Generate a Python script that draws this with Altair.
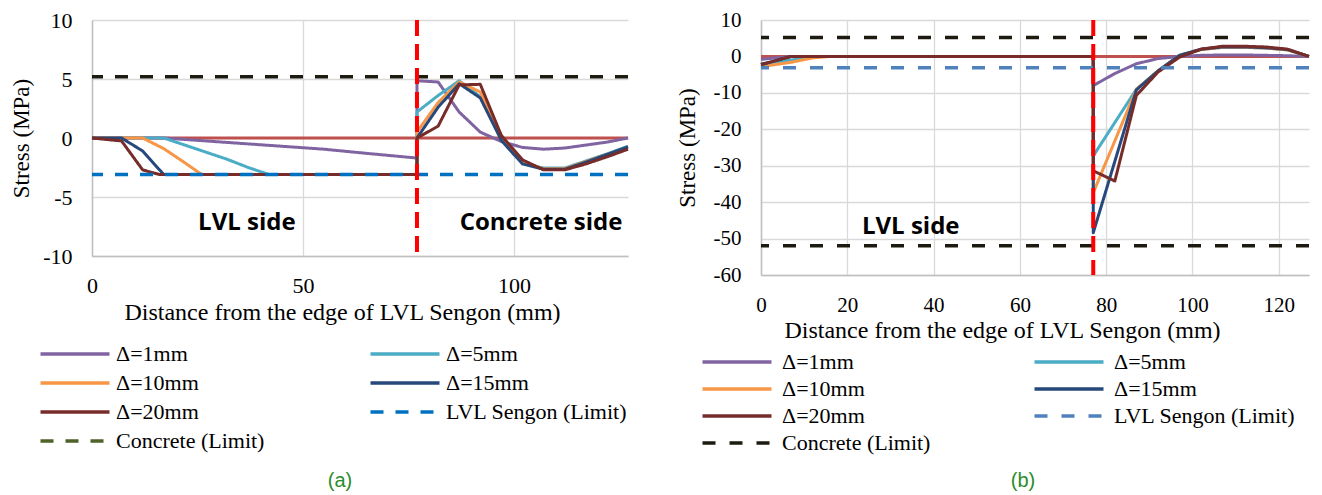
import altair as alt
import pandas as pd

# ---------------- names ----------------
NAMES = ["Δ=1mm", "Δ=5mm", "Δ=10mm", "Δ=15mm", "Δ=20mm"]
LVL_NAME = "LVL Sengon (Limit)"
CON_NAME = "Concrete (Limit)"
LEGEND_ORDER = NAMES + [LVL_NAME, CON_NAME]

# ---------------- panel (a) data ----------------
a_x_d1 = [0, 17, 25, 35, 45, 55, 65, 77, 77, 82, 87, 92, 97, 102, 107, 112, 117, 122, 127]
a_y_d1 = [0, 0, -0.2, -0.45, -0.7, -0.95, -1.3, -1.7, 4.85, 4.75, 2.2, 0.5, -0.3, -0.8, -0.95, -0.85, -0.6, -0.35, 0]
a_x_d5 = [0, 17, 22, 27, 32, 37, 42, 77, 77, 82, 87, 92, 97, 102, 107, 112, 117, 122, 127]
a_y_d5 = [0, 0, -0.6, -1.2, -1.8, -2.5, -3.1, -3.1, 2.2, 3.6, 4.85, 3.5, 0.2, -2.1, -2.55, -2.55, -1.95, -1.35, -0.7]
a_x_d10 = [0, 12, 17, 22, 26, 77, 77, 82, 87, 92, 97, 102, 107, 112, 117, 122, 127]
a_y_d10 = [0, 0, -0.9, -2.1, -3.1, -3.1, 0.5, 3.0, 4.75, 3.9, 0.2, -2.1, -2.6, -2.6, -2.0, -1.4, -0.8]
a_x_d15 = [0, 7, 12, 17, 77, 77, 82, 87, 92, 97, 102, 107, 112, 117, 122, 127]
a_y_d15 = [0, 0, -1.1, -3.1, -3.1, 0, 2.6, 4.6, 3.4, -0.2, -2.2, -2.65, -2.65, -2.05, -1.4, -0.75]
a_x_d20 = [0, 7, 12, 16, 77, 77, 82, 87, 92, 97, 102, 107, 112, 117, 122, 127]
a_y_d20 = [0, -0.25, -2.7, -3.1, -3.1, 0, 1.0, 4.5, 4.55, 0.2, -1.85, -2.7, -2.7, -2.2, -1.6, -0.95]

a_lvl_limit = [-3.1]
a_con_limit = [5.2]
a_x_ticks = [0, 50, 100]
a_y_ticks = [-10, -5, 0, 5, 10]
a_note_text = ["LVL side", "Concrete side"]
a_note_x = [36.7, 106.4]
a_note_y = [-7.2, -7.2]

# ---------------- panel (b) data ----------------
b_x_d1 = [0, 7, 77, 77, 82, 87, 92, 97, 102, 107, 112, 117, 122, 127]
b_y_d1 = [-0.8, 0, 0, -8.0, -4.7, -2.0, -0.6, 0, 0.3, 0.4, 0.4, 0.3, 0.2, 0]
b_x_d5 = [0, 7, 13, 77, 77, 87, 92, 97, 102, 107, 112, 117, 122, 127]
b_y_d5 = [-2.0, -1.0, 0, 0, -27.3, -9.0, -4.0, 0.3, 1.9, 2.5, 2.5, 2.3, 1.8, 0]
b_x_d10 = [0, 7, 12, 16, 77, 77, 87, 92, 97, 102, 107, 112, 117, 122, 127]
b_y_d10 = [-2.8, -1.6, -0.4, 0, 0, -37.4, -9.0, -4.0, 0.3, 1.9, 2.5, 2.5, 2.3, 1.8, 0]
b_x_d15 = [0, 7, 77, 77, 87, 92, 97, 102, 107, 112, 117, 122, 127]
b_y_d15 = [-2.3, 0, 0, -48.4, -9.2, -4.0, 0.3, 2.0, 2.6, 2.6, 2.4, 1.9, 0]
b_x_d20 = [0, 7, 77, 77, 82, 87, 92, 97, 102, 107, 112, 117, 122, 127]
b_y_d20 = [-2.2, 0, 0, -31.4, -34.2, -10.7, -4.3, -0.2, 2.0, 2.8, 2.8, 2.6, 2.0, 0]

b_lvl_limit = [-3.1]
b_con_limit = [5.2, -52]
b_x_ticks = [0, 20, 40, 60, 80, 100, 120]
b_y_ticks = [-60, -50, -40, -30, -20, -10, 0, 10]
b_note_text = ["LVL side"]
b_note_x = [34.7]
b_note_y = [-46.8]

# ---------------- shared ----------------
zero_line = [0]
interface_x = [77]
x_domain = [0, 127]
a_y_domain = [-10, 10]
b_y_domain = [-60, 10]

SERIES_COLORS = ["#8064A2", "#4BACC6", "#F79646", "#27487A", "#772C2A"]
a_colors = SERIES_COLORS + ["#0070C0", "#4F6228"]
b_colors = SERIES_COLORS + ["#4F81BD", "#1D1B10"]
a_dashes = [[1, 0]] * 5 + [[13, 12], [13, 12]]
b_dashes = [[1, 0]] * 5 + [[13, 14], [13, 14]]

SERIF = "Liberation Serif"
PLAIN_NUMBER = "'' + datum.value"


def series_df(xs_list, ys_list):
    rows = []
    for name, xs, ys in zip(NAMES, xs_list, ys_list):
        for i, (x, y) in enumerate(zip(xs, ys)):
            rows.append({"series": name, "x": x, "y": y, "idx": i})
    return pd.DataFrame(rows)


def panel(df, lvl, con, notes, cfg):
    xscale = alt.Scale(domain=x_domain, nice=False, zero=False)
    yscale = alt.Scale(domain=cfg["ydom"], nice=False, zero=False)
    common = dict(
        grid=True, gridColor="#D9D9D9", gridWidth=1.3,
        domainColor="#BFBFBF", domainWidth=1.5,
        ticks=False, tickSize=0,
        labelFont=SERIF, labelColor="black", labelExpr=PLAIN_NUMBER,
        titleFont=SERIF, titleColor="black", titleFontWeight="normal",
    )
    xaxis = alt.Axis(values=cfg["xticks"], title="Distance from the edge of LVL Sengon (mm)",
                     labelFontSize=cfg["tick_fs"], titleFontSize=cfg["xtitle_fs"],
                     labelPadding=cfg["xlabpad"], titlePadding=cfg["xtitlepad"],
                     titleX=cfg["xtitle_x"], labelFlush=False, **common)
    yaxis = alt.Axis(values=cfg["yticks"], title=cfg["ytitle"],
                     labelFontSize=cfg["tick_fs"], titleFontSize=cfg["ytitle_fs"],
                     labelPadding=cfg["ylabpad"], titlePadding=cfg["ytitlepad"], **common)
    X = alt.X("x:Q", scale=xscale, axis=xaxis)
    Y = alt.Y("y:Q", scale=yscale, axis=yaxis)

    legend = alt.Legend(
        title=None, orient="none", legendX=cfg["legx"], legendY=cfg["legy"],
        direction="horizontal",
        columns=2, columnPadding=cfg["colpad"], rowPadding=cfg["rowpad"],
        symbolType=cfg["symbol"], symbolSize=100, symbolStrokeWidth=3.5,
        labelFont=SERIF, labelFontSize=cfg["leg_fs"], labelColor="black",
        labelOffset=cfg["laboff"], labelLimit=400, padding=0,
    )
    color = alt.Color("series:N", scale=alt.Scale(domain=LEGEND_ORDER, range=cfg["colors"]), legend=legend)
    dash = alt.StrokeDash("series:N", scale=alt.Scale(domain=LEGEND_ORDER, range=cfg["dashes"]), legend=legend)

    zero = alt.Chart(pd.DataFrame({"y": zero_line})).mark_rule(
        color="#C0504D", strokeWidth=3).encode(y=Y)
    lines = alt.Chart(df).mark_line(strokeWidth=3, strokeJoin="round").encode(
        x=X, y=Y, color=color, strokeDash=dash, order=alt.Order("idx:Q"))
    lvl_rule = alt.Chart(pd.DataFrame({"series": [LVL_NAME] * len(lvl), "y": lvl})).mark_rule(
        strokeWidth=3.5).encode(y=Y, color=color, strokeDash=dash)
    con_rule = alt.Chart(pd.DataFrame({"y": con})).mark_rule(
        color="#1D1B10", strokeWidth=3.5, strokeDash=cfg["dashes"][6]).encode(y=Y)
    divider = alt.Chart(pd.DataFrame({"x": interface_x})).mark_rule(
        color="#FF0000", strokeWidth=4, strokeDash=[16, 8]).encode(x=X)
    text = alt.Chart(pd.DataFrame({"x": notes[1], "y": notes[2], "t": notes[0]})).mark_text(
        font="Open Sans", fontWeight="bold", fontSize=24, color="black").encode(x=X, y=Y, text="t:N")

    return alt.layer(zero, lines, lvl_rule, con_rule, divider, text).properties(
        width=cfg["w"], height=cfg["h"],
        title=alt.TitleParams(cfg["caption"], orient="bottom", frame="group", anchor="middle",
                              font="Liberation Sans", fontSize=20, fontWeight="normal",
                              color="#2B8C2B", offset=cfg["capoff"], dx=cfg["capdx"]),
    )


df_a = series_df([a_x_d1, a_x_d5, a_x_d10, a_x_d15, a_x_d20],
                 [a_y_d1, a_y_d5, a_y_d10, a_y_d15, a_y_d20])
df_b = series_df([b_x_d1, b_x_d5, b_x_d10, b_x_d15, b_x_d20],
                 [b_y_d1, b_y_d5, b_y_d10, b_y_d15, b_y_d20])

cfg_a = dict(w=536, h=236, ydom=a_y_domain, xticks=a_x_ticks, yticks=a_y_ticks,
             ytitle="Stress (MPa)", tick_fs=22, xtitle_fs=24, ytitle_fs=23,
             xlabpad=19, xtitlepad=4, ylabpad=20, ytitlepad=9, xtitle_x=250,
             legx=-28, legy=323, colpad=98, rowpad=7, symbol="M-6.9,0H6.9",
             leg_fs=22, laboff=30, colors=a_colors, dashes=a_dashes,
             caption="(a)", capoff=19, capdx=-20)
cfg_b = dict(w=548, h=255, ydom=b_y_domain, xticks=b_x_ticks, yticks=b_y_ticks,
             ytitle="Stress  (MPa)", tick_fs=21, xtitle_fs=24, ytitle_fs=23,
             xlabpad=19, xtitlepad=3, ylabpad=20, ytitlepad=14, xtitle_x=241,
             legx=-35, legy=331, colpad=96, rowpad=5, symbol="M-6.9,0H6.9",
             leg_fs=22, laboff=34, colors=b_colors, dashes=b_dashes,
             caption="(b)", capoff=17, capdx=-12)

pa = panel(df_a, a_lvl_limit, a_con_limit, (a_note_text, a_note_x, a_note_y), cfg_a)
pb = panel(df_b, b_lvl_limit, b_con_limit, (b_note_text, b_note_x, b_note_y), cfg_b)

chart = alt.hconcat(pa, pb, spacing=44).resolve_scale(
    color="independent", strokeDash="independent", x="independent", y="independent"
).properties(
    padding={"left": 10, "top": 8, "right": 5, "bottom": 5}
).configure_view(stroke="transparent").configure_axis(
    labelFont=SERIF, titleFont=SERIF
)

chart.save("out.html", embed_options={"renderer": "svg", "actions": False})
